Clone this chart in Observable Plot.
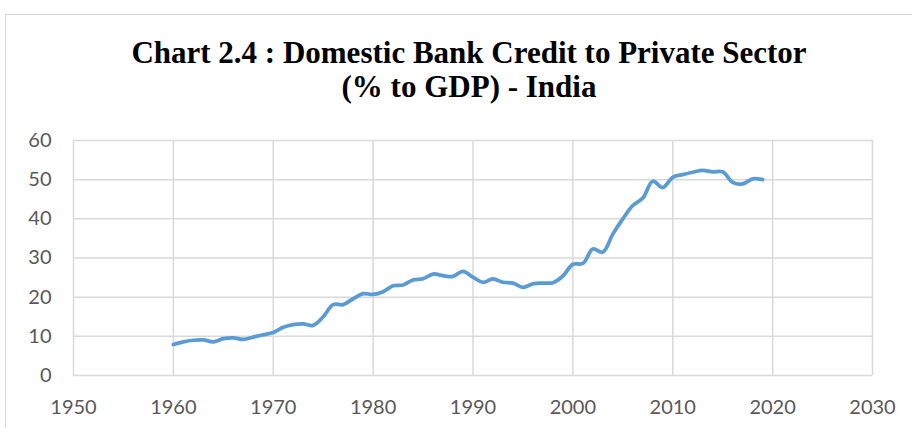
<!DOCTYPE html>
<html>
<head>
<meta charset="utf-8">
<script src="https://cdn.jsdelivr.net/npm/d3@7"></script>
<script src="https://cdn.jsdelivr.net/npm/@observablehq/plot@0.6"></script>
<style>
  html, body { margin: 0; padding: 0; background: #fff; overflow: hidden; }
  #wrap { position: relative; width: 912px; height: 428px; }
  #frame { position: absolute; left: 5px; top: 14px; width: 1000px; height: 600px;
           border-top: 1.5px solid #d9d9d9; border-left: 1.5px solid #d9d9d9; box-sizing: border-box; }
  #title { position: absolute; left: 0; width: 938px; top: 36px; text-align: center;
           font-family: "Liberation Serif", "Times New Roman", serif; font-weight: bold;
           font-size: 31px; line-height: 34px; color: #000; }
  #chart { position: absolute; left: 0; top: 0; }
</style>
</head>
<body>
<div id="wrap">
  <div id="frame"></div>
  <div id="title">Chart 2.4 : Domestic Bank Credit to Private Sector<br>(% to GDP) - India</div>
  <div id="chart"></div>
</div>
<script>
const years = [1960,1961,1962,1963,1964,1965,1966,1967,1968,1969,
               1970,1971,1972,1973,1974,1975,1976,1977,1978,1979,
               1980,1981,1982,1983,1984,1985,1986,1987,1988,1989,
               1990,1991,1992,1993,1994,1995,1996,1997,1998,1999,
               2000,2001,2002,2003,2004,2005,2006,2007,2008,2009,
               2010,2011,2012,2013,2014,2015,2016,2017,2018,2019];
const credit = [7.9,8.6,9.0,9.1,8.6,9.4,9.6,9.2,9.8,10.4,
                11.0,12.3,13.0,13.2,12.8,15.0,18.1,18.1,19.6,20.9,
                20.7,21.4,22.9,23.1,24.4,24.7,25.9,25.5,25.3,26.6,
                25.1,23.8,24.7,23.8,23.6,22.5,23.4,23.6,23.7,25.4,
                28.4,28.6,32.3,31.5,36.1,40.0,43.4,45.3,49.6,48.0,
                50.6,51.3,51.9,52.4,52.0,52.0,49.3,48.9,50.2,50.0];
const xTicks = [1950,1960,1970,1980,1990,2000,2010,2020,2030];
const yTicks = [0,10,20,30,40,50,60];

const data = years.map((y, i) => ({year: y, value: credit[i]}));

const chart = Plot.plot({
  width: 912,
  height: 428,
  marginTop: 140,
  marginBottom: 53,
  marginLeft: 73,
  marginRight: 40,
  style: {fontFamily: "Lato, 'Open Sans', sans-serif", fontSize: "20px", color: "#595959", background: "transparent"},
  x: {domain: [1950, 2030], ticks: xTicks, tickFormat: d => String(d), label: null},
  y: {domain: [0, 60], ticks: yTicks, label: null},
  marks: [
    Plot.gridX(xTicks, {stroke: "#d9d9d9", strokeOpacity: 1, strokeWidth: 1.5}),
    Plot.gridY(yTicks, {stroke: "#d9d9d9", strokeOpacity: 1, strokeWidth: 1.5}),
    Plot.axisX(xTicks, {tickSize: 0, tickPadding: 24, tickFormat: d => String(d), label: null, fill: "#595959"}),
    Plot.axisY(yTicks, {tickSize: 0, tickPadding: 22, label: null, fill: "#595959"}),
    Plot.line(data, {x: "year", y: "value", stroke: "#5b9bd5", strokeWidth: 3.75, curve: "catmull-rom", strokeLinecap: "round", strokeLinejoin: "round"})
  ]
});
document.getElementById("chart").appendChild(chart);
</script>
</body>
</html>
